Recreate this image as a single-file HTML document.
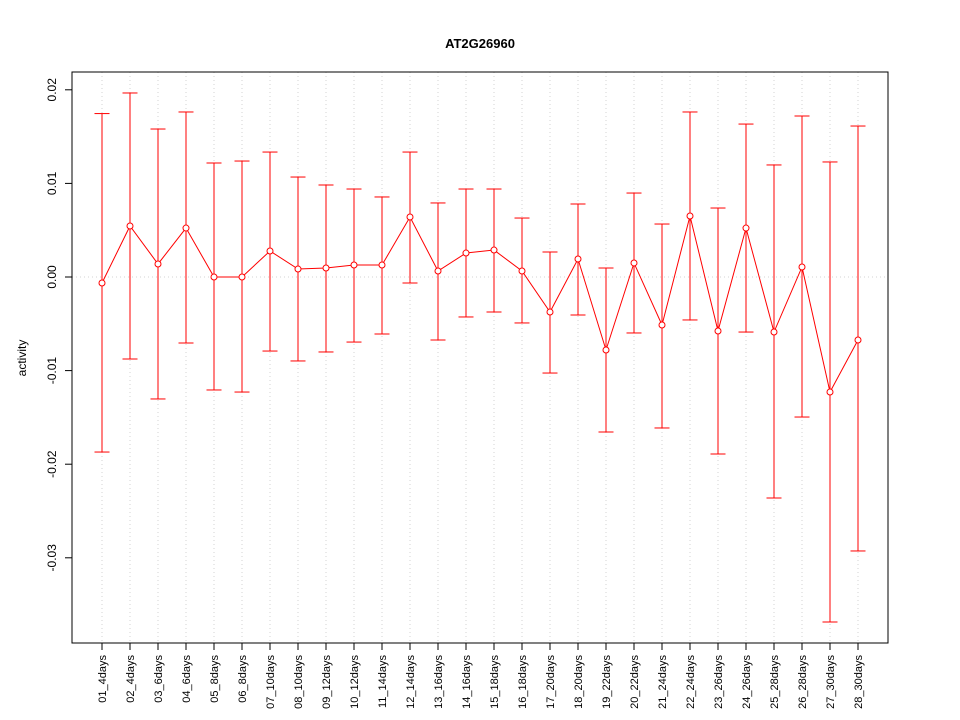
<!DOCTYPE html>
<html><head><meta charset="utf-8"><style>
body{margin:0;background:#fff}
svg{display:block;font-family:"Liberation Sans",Arial,sans-serif}
</style></head><body>
<svg id="chart" width="960" height="720" viewBox="0 0 960 720" xmlns="http://www.w3.org/2000/svg">
<text x="480" y="48" text-anchor="middle" font-size="13" font-weight="bold">AT2G26960</text>
<text x="0" y="0" transform="translate(26,358) rotate(-90)" text-anchor="middle" font-size="12">activity</text>
<g id="grid"></g>
<g id="series"></g>
<g id="axes"></g>
<rect x="72" y="72" width="816" height="571" fill="none" stroke="#000" stroke-width="1"/>
</svg>
<script>
const categories=["01_4days","02_4days","03_6days","04_6days","05_8days","06_8days","07_10days","08_10days","09_12days","10_12days","11_14days","12_14days","13_16days","14_16days","15_18days","16_18days","17_20days","18_20days","19_22days","20_22days","21_24days","22_24days","23_26days","24_26days","25_28days","26_28days","27_30days","28_30days"];
const means=[-0.00064,0.00545,0.00139,0.00523,0,0,0.00278,0.00085,0.00096,0.00128,0.00128,0.00641,0.00064,0.00256,0.00288,0.00064,-0.00374,0.00192,-0.0078,0.0015,-0.00513,0.00652,-0.00577,0.00523,-0.00588,0.00107,-0.01229,-0.00673];
const upper=[0.01746,0.01966,0.01581,0.01763,0.01218,0.01239,0.01335,0.01068,0.00983,0.0094,0.00855,0.01335,0.00791,0.0094,0.0094,0.0063,0.00267,0.0078,0.00096,0.00897,0.00566,0.01763,0.00737,0.01634,0.01197,0.0172,0.01229,0.01613];
const lower=[-0.0187,-0.00876,-0.01303,-0.00705,-0.01207,-0.01229,-0.00791,-0.00897,-0.00801,-0.00695,-0.00609,-0.00064,-0.00673,-0.00427,-0.00374,-0.00491,-0.01026,-0.00406,-0.01656,-0.00598,-0.01613,-0.00459,-0.01891,-0.00588,-0.02361,-0.01496,-0.03686,-0.02927];
const yTicks=[0.02,0.01,0,-0.01,-0.02,-0.03];
const yTickLabels=["0.02","0.01","0.00","-0.01","-0.02","-0.03"];

const NS="http://www.w3.org/2000/svg";
const x=i=>102+i*(756/(categories.length-1));
const y=v=>277-v*9360;
function mk(tag,attrs,parent){const e=document.createElementNS(NS,tag);for(const k in attrs)e.setAttribute(k,attrs[k]);parent.appendChild(e);return e;}
const grid=document.getElementById('grid'),series=document.getElementById('series'),axes=document.getElementById('axes');

categories.forEach((c,i)=>{
  const g=mk('line',{x1:x(i),x2:x(i),y1:72,y2:643,stroke:'#d3d3d3','stroke-dasharray':'1,3'},grid);
  
  
});
const z=mk('line',{x1:72,x2:888,y1:y(0),y2:y(0),stroke:'#d3d3d3','stroke-dasharray':'1,3'},grid);



categories.forEach((c,i)=>{
  const e=mk('g',{stroke:'#ff0000','stroke-width':1},series);
  
  
  mk('line',{x1:x(i),x2:x(i),y1:y(upper[i]),y2:y(lower[i])},e);
  mk('line',{x1:x(i)-7.5,x2:x(i)+7.5,y1:y(upper[i]),y2:y(upper[i])},e);
  mk('line',{x1:x(i)-7.5,x2:x(i)+7.5,y1:y(lower[i]),y2:y(lower[i])},e);
});
const pl=mk('polyline',{points:means.map((v,i)=>x(i)+','+y(v)).join(' '),fill:'none',stroke:'#ff0000','stroke-width':1},series);


means.forEach((v,i)=>{
  const p=mk('circle',{cx:x(i),cy:y(v),r:3,fill:'#fff',stroke:'#ff0000','stroke-width':1},series);
  
  
});

// y axis
mk('line',{x1:72,x2:72,y1:y(yTicks[0]),y2:y(yTicks[yTicks.length-1]),stroke:'#000'},axes);
yTicks.forEach((v,i)=>{
  const t=mk('line',{x1:65,x2:72,y1:y(v),y2:y(v),stroke:'#000'},axes);
  
  
  const l=mk('text',{transform:`translate(56,${y(v)}) rotate(-90)`,'text-anchor':'middle','font-size':12},axes);
  l.textContent=yTickLabels[i];
  
  
});
// x axis
mk('line',{x1:x(0),x2:x(categories.length-1),y1:643,y2:643,stroke:'#000'},axes);
categories.forEach((c,i)=>{
  const t=mk('line',{x1:x(i),x2:x(i),y1:643,y2:650,stroke:'#000'},axes);
  
  
  const l=mk('text',{transform:`translate(${x(i)+4},655) rotate(-90)`,'text-anchor':'end','font-size':11},axes);
  l.textContent=c;
  
  
});
</script>
</body></html>
